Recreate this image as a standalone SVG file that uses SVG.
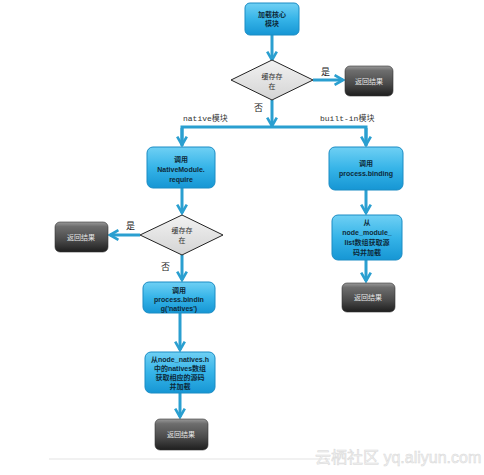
<svg xmlns="http://www.w3.org/2000/svg" width="484" height="475" viewBox="0 0 484 475">
<defs>
<linearGradient id="blue" x1="0" y1="0" x2="0" y2="1">
<stop offset="0" stop-color="#6fd0f4"/>
<stop offset="0.5" stop-color="#36b4e8"/>
<stop offset="1" stop-color="#1696d4"/>
</linearGradient>
<linearGradient id="gray" x1="0" y1="0" x2="0" y2="1">
<stop offset="0" stop-color="#9a9a9a"/>
<stop offset="0.15" stop-color="#6e6e6e"/>
<stop offset="0.6" stop-color="#4a4a4a"/>
<stop offset="1" stop-color="#1e1e1e"/>
</linearGradient>
<linearGradient id="dia" x1="0" y1="0" x2="0" y2="1">
<stop offset="0" stop-color="#f2f2f2"/>
<stop offset="1" stop-color="#d4d4d4"/>
</linearGradient>
<marker id="ah" viewBox="0 0 10 10" refX="8" refY="5" markerWidth="4" markerHeight="4" orient="auto" markerUnits="strokeWidth">
<path d="M1,1 L8,5 L1,9" fill="none" stroke="#2a9fd0" stroke-width="2.2" stroke-linejoin="miter"/>
</marker>
</defs>
<style>
.bb{fill:url(#blue);stroke:#1b8cc4;stroke-width:1}
.gb{fill:url(#gray);stroke:#333;stroke-width:0.6}
.dm{fill:url(#dia);stroke:#222;stroke-width:1}
.bt{font-family:"Liberation Sans","Noto Sans CJK SC",sans-serif;font-size:7px;font-weight:bold;fill:#0d2a3a;text-anchor:middle}
.gt{font-family:"Liberation Serif","Noto Sans CJK SC",serif;font-size:7px;fill:#e6e6e6;text-anchor:middle}
.dt{font-family:"Liberation Serif","Noto Sans CJK SC",serif;font-size:7px;fill:#333;text-anchor:middle}
.lb{font-family:"Liberation Serif","Noto Sans CJK SC",serif;font-size:9px;fill:#222}
.ml{font-family:"Liberation Mono","Noto Sans CJK SC",monospace;font-size:8px;fill:#333}
.ln{fill:none;stroke:#2a9fd0;stroke-width:3}
.ar{fill:none;stroke:#2a9fd0;stroke-width:3;marker-end:url(#ah)}
</style>
<rect width="484" height="475" fill="#ffffff"/>

<g id="connectors">
<line class="ar" x1="272" y1="35" x2="272" y2="60"/>
<line class="ar" x1="313" y1="80" x2="343" y2="80"/>
<line class="ar" x1="272" y1="100" x2="272" y2="126"/>
<polyline class="ln" points="182,146 182,127 366,127 366,146"/>
<line class="ar" x1="182" y1="128" x2="182" y2="145"/>
<line class="ar" x1="366" y1="128" x2="366" y2="145"/>
<line class="ar" x1="182" y1="188" x2="182" y2="213"/>
<line class="ar" x1="140" y1="235" x2="110" y2="235"/>
<line class="ar" x1="182" y1="255" x2="182" y2="280"/>
<line class="ar" x1="180" y1="313" x2="180" y2="350"/>
<line class="ar" x1="180" y1="393" x2="180" y2="417"/>
<line class="ar" x1="366" y1="190" x2="366" y2="213"/>
<line class="ar" x1="366" y1="260" x2="366" y2="281"/>
<text class="lb" x="321" y="75">是</text>
<text class="lb" x="254" y="111">否</text>
<text class="ml" x="183" y="121">native模块</text>
<text class="ml" x="320" y="121">built-in模块</text>
<text class="lb" x="126" y="229">是</text>
<text class="lb" x="161" y="270">否</text>
</g>

<g id="n-load">
<rect class="bb" x="245" y="3" width="54" height="32" rx="5"/>
<text class="bt" x="272" y="17" font-weight="normal">加载核心</text>
<text class="bt" x="272" y="26" font-weight="normal">模块</text>
</g>

<g id="n-cache1">
<polygon class="dm" points="272,60 313,80 272,100 231,80"/>
<text class="dt" x="272" y="79">缓存存</text>
<text class="dt" x="272" y="89">在</text>
</g>

<g id="n-ret1">
<rect class="gb" x="345" y="66" width="48" height="30" rx="5"/>
<text class="gt" x="369" y="84">返回结果</text>
</g>

<g id="n-native">
<rect class="bb" x="147" y="147" width="68" height="41" rx="6"/>
<text class="bt" x="181" y="162">调用</text>
<text class="bt" x="181" y="172">NativeModule.</text>
<text class="bt" x="181" y="182">require</text>
</g>

<g id="n-binding">
<rect class="bb" x="329" y="147" width="74" height="43" rx="6"/>
<text class="bt" x="366" y="166">调用</text>
<text class="bt" x="366" y="176">process.binding</text>
</g>

<g id="n-cache2">
<polygon class="dm" points="182,215 223,235 182,255 140,235"/>
<text class="dt" x="182" y="233">缓存存</text>
<text class="dt" x="182" y="243">在</text>
</g>

<g id="n-ret2">
<rect class="gb" x="55" y="222" width="53" height="30" rx="5"/>
<text class="gt" x="81" y="240">返回结果</text>
</g>

<g id="n-natives">
<rect class="bb" x="143" y="282" width="72" height="31" rx="6"/>
<text class="bt" x="179" y="293">调用</text>
<text class="bt" x="179" y="302">process.bindin</text>
<text class="bt" x="179" y="311">g('natives')</text>
</g>

<g id="n-src">
<rect class="bb" x="145" y="352" width="70" height="41" rx="6"/>
<text class="bt" x="180" y="362">从node_natives.h</text>
<text class="bt" x="180" y="371">中的natives数组</text>
<text class="bt" x="180" y="380">获取相应的源码</text>
<text class="bt" x="180" y="389">并加载</text>
</g>

<g id="n-ret3">
<rect class="gb" x="155" y="419" width="53" height="31" rx="5"/>
<text class="gt" x="181" y="437">返回结果</text>
</g>

<g id="n-list">
<rect class="bb" x="332" y="215" width="70" height="45" rx="6"/>
<text class="bt" x="367" y="225">从</text>
<text class="bt" x="367" y="235">node_module_</text>
<text class="bt" x="367" y="245">list数组获取源</text>
<text class="bt" x="367" y="255">码并加载</text>
</g>

<g id="n-ret4">
<rect class="gb" x="342" y="283" width="53" height="29" rx="5"/>
<text class="gt" x="368" y="300">返回结果</text>
</g>

<line x1="49" y1="459" x2="330" y2="459" stroke="#dcdcdc" stroke-width="0.8"/>
<text x="315" y="463" font-family="Liberation Sans, Noto Sans CJK SC, sans-serif" font-size="16" fill="#f2f2f2" stroke="#d8d8d8" stroke-width="0.5">云栖社区 yq.aliyun.com</text>
</svg>
